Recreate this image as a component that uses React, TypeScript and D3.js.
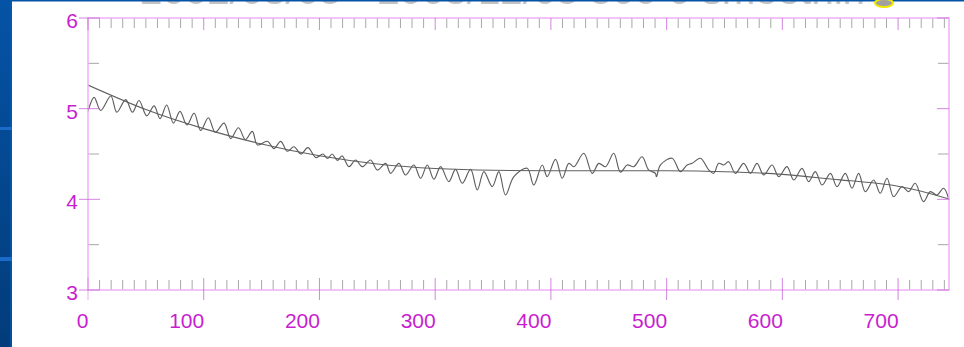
import React from "react";
import * as d3 from "d3";

// Oscillating series: extrema (x in days, value)
const seriesX = [
  0, 5.3, 11, 19.7, 24.9, 32.6, 38.4, 44.1, 50.8, 57.1, 62.3, 68, 73.8, 79.5, 85.5, 91.7, 97.4,
  104, 110, 117.6, 123.3, 130, 136, 142, 146.4, 155, 160.7, 166.5, 172.3, 178, 184, 190, 197,
  203, 207, 211, 215.5, 219.5, 225.5, 231.3, 237, 244.2, 250, 257.2, 261.5, 268.7, 274.4, 281.6,
  287.4, 293.2, 298.9, 304.7, 311.8, 317.6, 323.4, 330.6, 336.4, 342.1, 349.3, 355, 360.8, 368,
  379.5, 385.2, 392.5, 396.8, 404, 409.8, 415.5, 419.9, 428.4, 435.7, 441.4, 447.2, 454.3, 460.1,
  465.9, 471.6, 478.8, 484.5, 490.3, 491.2, 494.7, 504.7, 511.9, 517.7, 522, 529.2, 536.4, 540.7,
  545, 549.3, 553.6, 559.4, 566.6, 572.4, 578.1, 583.9, 591.1, 596.8, 604, 609.8, 617, 622.7,
  628.5, 634.3, 641.5, 647.2, 654.4, 660.2, 665.9, 671.7, 678.9, 684.6, 690.4, 696.1, 703.4,
  709.1, 714.8, 722, 727.8, 733.6, 739.3, 743.6,
];
const seriesY = [
  4.97, 5.125, 4.98, 5.14, 4.96, 5.1, 4.96, 5.09, 4.92, 5.03, 4.89, 5.04, 4.84, 4.97, 4.82, 4.95, 4.76,
  4.9, 4.74, 4.84, 4.67, 4.79, 4.66, 4.75, 4.6, 4.64, 4.56, 4.64, 4.53, 4.58, 4.5, 4.57, 4.46,
  4.5, 4.45, 4.5, 4.43, 4.48, 4.36, 4.434, 4.36, 4.434, 4.324, 4.397, 4.287, 4.397, 4.268, 4.379,
  4.232, 4.379, 4.221, 4.36, 4.195, 4.331, 4.177, 4.331, 4.103, 4.305, 4.14, 4.305, 4.048, 4.25,
  4.342, 4.158, 4.379, 4.25, 4.441, 4.232, 4.397, 4.36, 4.508, 4.287, 4.397, 4.36, 4.508, 4.3,
  4.379, 4.36, 4.47, 4.324, 4.287, 4.25, 4.379, 4.453, 4.305, 4.379, 4.397, 4.453, 4.324, 4.287,
  4.397, 4.379, 4.415, 4.287, 4.397, 4.287, 4.397, 4.268, 4.379, 4.25, 4.36, 4.213, 4.342, 4.195,
  4.305, 4.158, 4.287, 4.14, 4.287, 4.122, 4.287, 4.085, 4.213, 4.067, 4.232, 4.029, 4.14,
  4.085, 4.177, 3.974, 4.085, 4.048, 4.122, 4.011,
];

// Smooth fitted curve
const fitX = [0, 50, 100, 150, 200, 250, 300, 350, 400, 450, 500, 550, 600, 650, 700, 745];
const fitY = [5.26, 4.99, 4.78, 4.61, 4.48, 4.39, 4.34, 4.32, 4.315, 4.315, 4.315, 4.305, 4.275, 4.215, 4.145, 4.0];

const xMajorTicks = [0, 100, 200, 300, 400, 500, 600, 700];
const xMinorTicks = d3.range(10, 750, 10).filter((v) => v % 100 !== 0);
const yMajorTicks = [3, 4, 5, 6];
const yMinorTicks = [3.5, 4.5, 5.5];

const titleText = "2002/03/05 - 2003/12/05 500 0 smoothin";

const W = 964;
const H = 347;
const L = 88;
const R = 949;
const T = 18;
const B = 290;

export default function App() {
  const x = d3.scaleLinear().domain([0, 744]).range([L, R]);
  const y = d3.scaleLinear().domain([3, 6]).range([B, T]);

  const seriesPts = seriesX.map((v, i) => [v, seriesY[i]] as [number, number]);
  const fitPts = fitX.map((v, i) => [v, fitY[i]] as [number, number]);

  const lineGen = d3
    .line<[number, number]>()
    .x((d) => x(d[0]))
    .y((d) => y(d[1]))
    .curve(d3.curveCatmullRom.alpha(0.5));
  const fitGen = d3
    .line<[number, number]>()
    .x((d) => x(d[0]))
    .y((d) => y(d[1]))
    .curve(d3.curveNatural);

  const axisColor = "#eeb0f4";
  const majorColor = "#c868d8";
  const minorColor = "#a8a8a8";
  const labelColor = "#c81ed0";
  const font = "Liberation Sans, Arial, Helvetica, sans-serif";

  return (
    <div style={{ position: "fixed", left: 0, top: 0 }}>
      <svg width={W} height={H} style={{ display: "block" }}>
        <defs>
          <linearGradient id="blueStrip" x1="0" y1="0" x2="0" y2="1">
            <stop offset="0" stopColor="#0553a6" />
            <stop offset="1" stopColor="#023c7a" />
          </linearGradient>
          <clipPath id="plotClip">
            <rect x={L} y={T} width={R - L + 1} height={B - T} />
          </clipPath>
        </defs>
        <rect x={0} y={0} width={W} height={H} fill="#ffffff" />
        {/* left blue strip */}
        <rect x={0} y={0} width={12} height={H} fill="url(#blueStrip)" />
        <rect x={10} y={0} width={2} height={H} fill="#0a5cb4" opacity={0.6} />
        <rect x={0} y={127} width={12} height={3} fill="#1a6cc8" />
        <rect x={0} y={257} width={12} height={4} fill="#1a6cc8" />
        {/* cut-off title (only its lower edge shows, as in the slide) */}
        <text
          x={140}
          y={4}
          fontFamily={font}
          fontSize={38}
          fill="#c4c4c4"
          textLength={725}
          lengthAdjust="spacingAndGlyphs"
        >
          {titleText}
        </text>
        {/* top blue line */}
        <rect x={0} y={0} width={W} height={1.5} fill="#0553a6" />
        <ellipse cx={884} cy={3} rx={9} ry={4} fill="#a0a0a0" stroke="#f0e800" strokeWidth={2} />

        {/* data lines */}
        <g clipPath="url(#plotClip)">
          <path d={fitGen(fitPts) || ""} fill="none" stroke="#606060" strokeWidth={1.1} />
          <path d={lineGen(seriesPts) || ""} fill="none" stroke="#5e5e5e" strokeWidth={1.15} />
        </g>

        {/* minor x ticks */}
        {xMinorTicks.map((t) => (
          <g key={"xm" + t}>
            <line x1={x(t)} x2={x(t)} y1={B} y2={B - 10} stroke={minorColor} strokeWidth={1} />
            <line x1={x(t)} x2={x(t)} y1={T} y2={T + 10} stroke={minorColor} strokeWidth={1} />
          </g>
        ))}
        {/* minor y ticks */}
        {yMinorTicks.map((t) => (
          <g key={"ym" + t}>
            <line x1={L} x2={L + 11} y1={y(t)} y2={y(t)} stroke={minorColor} strokeWidth={1} />
            <line x1={R} x2={R - 11} y1={y(t)} y2={y(t)} stroke={minorColor} strokeWidth={1} />
          </g>
        ))}
        {/* frame */}
        <rect x={L} y={T} width={R - L} height={B - T} fill="none" stroke={axisColor} strokeWidth={1.5} />
        {/* major x ticks */}
        {xMajorTicks.map((t) => (
          <g key={"xM" + t}>
            <line x1={x(t)} x2={x(t)} y1={B + 10} y2={B - 12} stroke={majorColor} strokeWidth={1} opacity={t === 0 ? 0.5 : 0.8} />
            <line x1={x(t)} x2={x(t)} y1={T} y2={T + 12} stroke={majorColor} strokeWidth={1} opacity={0.8} />
            <text x={x(t) + 0.5} y={328} textAnchor="end" fontFamily={font} fontSize={21} fill={labelColor}>
              {t}
            </text>
          </g>
        ))}
        {/* major y ticks */}
        {yMajorTicks.map((t) => (
          <g key={"yM" + t}>
            <line x1={L - 9} x2={L + 12} y1={y(t)} y2={y(t)} stroke={majorColor} strokeWidth={1} opacity={0.8} />
            <line x1={R} x2={R - 12} y1={y(t)} y2={y(t)} stroke={majorColor} strokeWidth={1} opacity={0.8} />
            <text x={78} y={y(t) + 10} textAnchor="end" fontFamily={font} fontSize={21} fill={labelColor}>
              {t}
            </text>
          </g>
        ))}
      </svg>
    </div>
  );
}
